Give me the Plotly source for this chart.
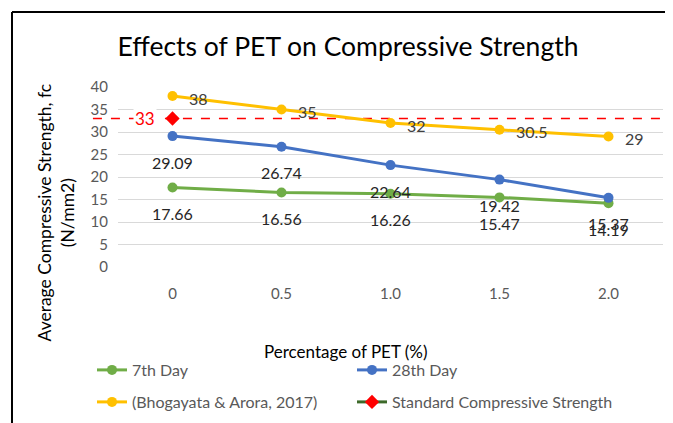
import plotly.graph_objects as go

categories = ["0", "0.5", "1.0", "1.5", "2.0"]
day7 = [17.66, 16.56, 16.26, 15.47, 14.19]
day28 = [29.09, 26.74, 22.64, 19.42, 15.37]
bhogayata = [38, 35, 32, 30.5, 29]
standard_x = ["0"]
standard_y = [33]
y_ticks = [0, 5, 10, 15, 20, 25, 30, 35, 40]

FONT = "Lato, Carlito, 'Open Sans', sans-serif"
GREEN = "#70AD47"
BLUE = "#4472C4"
GOLD = "#FFC000"
RED = "#FF0000"
DKGREEN = "#3D6A2A"

W, H = 665, 415  # page body has an 8px margin

fig = go.Figure()
fig.add_trace(go.Scatter(x=categories, y=day7, mode="lines+markers", name="7th Day",
                         line=dict(color=GREEN, width=3), marker=dict(size=10, color=GREEN),
                         legend="legend"))
fig.add_trace(go.Scatter(x=categories, y=day28, mode="lines+markers", name="28th Day",
                         line=dict(color=BLUE, width=3), marker=dict(size=10, color=BLUE),
                         legend="legend2"))
fig.add_trace(go.Scatter(x=categories, y=bhogayata, mode="lines+markers", name="(Bhogayata & Arora, 2017)",
                         line=dict(color=GOLD, width=3), marker=dict(size=10, color=GOLD),
                         legend="legend3"))
fig.add_trace(go.Scatter(x=standard_x, y=standard_y, mode="lines+markers", name="Standard Compressive Strength",
                         line=dict(color=DKGREEN, width=3),
                         marker=dict(size=11, color=RED, symbol="diamond"),
                         legend="legend4"))

annotations = []
for series in (day7, day28):
    for i, yv in enumerate(series):
        annotations.append(dict(x=i, y=yv, text=f"{yv:.2f}", showarrow=False,
                                xanchor="center", yanchor="middle", yshift=-26,
                                font=dict(family=FONT, size=16, color="#262626")))
for i, yv in enumerate(bhogayata):
    annotations.append(dict(x=i, y=yv, text=f"{yv:g}", showarrow=False,
                            xanchor="left", yanchor="middle", xshift=14, yshift=-2,
                            font=dict(family=FONT, size=16, color="#404040")))
for xv, yv in zip(standard_x, standard_y):
    annotations.append(dict(x=categories.index(xv), y=yv, text=f"{yv:g}", showarrow=False,
                            xanchor="right", yanchor="middle", xshift=-16, bgcolor="white",
                            font=dict(family=FONT, size=17, color=RED)))

# axis titles (centred on the chart area like the original, not on the plot area)
annotations.append(dict(xref="paper", yref="paper", x=0.418, y=-0.472, showarrow=False,
                        text="Percentage of PET (%)", xanchor="center", yanchor="middle",
                        font=dict(family=FONT, size=17, color="#000000")))
annotations.append(dict(xref="paper", yref="paper", x=-0.113, y=0.305, showarrow=False,
                        text="Average Compressive Strength, fc<br>(N/mm2)", textangle=-90,
                        xanchor="center", yanchor="middle",
                        font=dict(family=FONT, size=17.5, color="#000000")))

shapes = [
    dict(type="line", xref="paper", yref="y", x0=-0.046, x1=1.003, y0=standard_y[0], y1=standard_y[0],
         line=dict(color=RED, width=1.5, dash="dash"), layer="below"),
    # chart border (top and left visible)
    dict(type="line", xref="paper", yref="paper", x0=-0.1945, x1=1.2, y0=1.4167, y1=1.4167,
         line=dict(color="black", width=2)),
    dict(type="line", xref="paper", yref="paper", x0=-0.1945, x1=-0.1945, y0=1.4167, y1=-1.2,
         line=dict(color="black", width=2)),
]


def legend_box(x_px, y_px):
    return dict(orientation="h", xref="container", yref="container",
                x=x_px / W, xanchor="left", y=1 - y_px / H, yanchor="middle",
                font=dict(size=16, color="#595959"), bgcolor="rgba(0,0,0,0)")


fig.update_layout(
    width=W, height=H,
    margin=dict(l=110, r=10, t=79, b=156, autoexpand=False),
    paper_bgcolor="white", plot_bgcolor="white",
    font=dict(family=FONT, color="#595959", size=15),
    title=dict(text="Effects of PET on Compressive Strength", x=340 / W, xanchor="center",
               y=1 - 39 / H, yanchor="middle", font=dict(family=FONT, size=26.5, color="#000000")),
    xaxis=dict(type="category", range=[-0.5, 4.5], showgrid=False, showline=False, zeroline=False,
               ticks="outside", ticklen=13, tickcolor="rgba(0,0,0,0)",
               tickfont=dict(size=15, color="#595959")),
    yaxis=dict(range=[0, 40], tickvals=y_ticks, showgrid=True, gridcolor="#D9D9D9", gridwidth=1,
               zeroline=False, showline=False, ticks="outside", ticklen=6, tickcolor="rgba(0,0,0,0)",
               tickfont=dict(size=15, color="#595959")),
    legend=legend_box(84, 362),
    legend2=legend_box(344, 362),
    legend3=legend_box(84, 394),
    legend4=legend_box(344, 394),
    annotations=annotations,
    shapes=shapes,
    showlegend=True,
)

fig.write_html("out.html")
